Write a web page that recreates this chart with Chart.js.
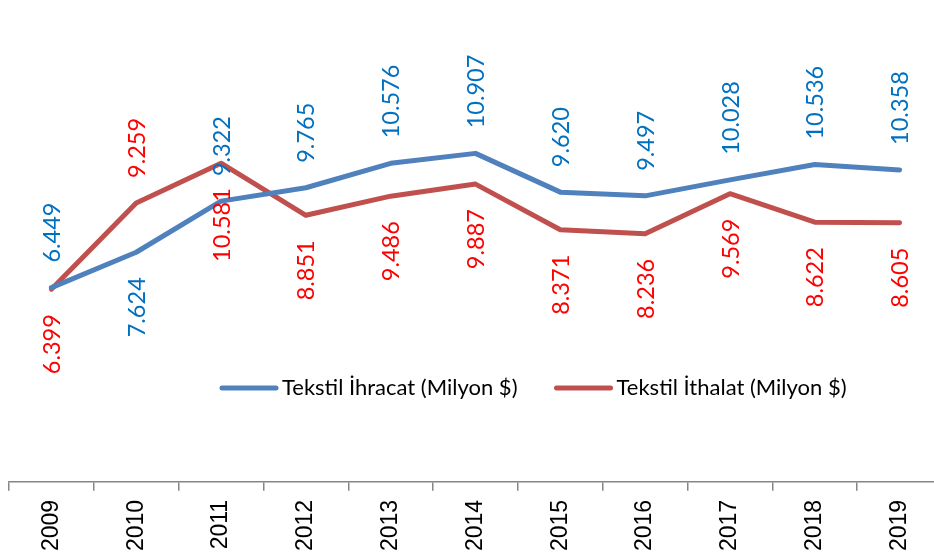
<!DOCTYPE html>
<html>
<head>
<meta charset="utf-8">
<script src="https://cdn.jsdelivr.net/npm/chart.js@4/dist/chart.umd.min.js"></script>
<style>
  html, body { margin: 0; padding: 0; background: #fff; overflow: hidden; }
  #wrap { width: 934px; height: 558px; overflow: hidden; }
</style>
</head>
<body>
<div id="wrap"><canvas id="chart" width="950" height="560"></canvas></div>
<script>
// data
const years = ['2009', '2010', '2011', '2012', '2013', '2014', '2015', '2016', '2017', '2018', '2019'];
const ihracat = [6.449, 7.624, 9.322, 9.765, 10.576, 10.907, 9.620, 9.497, 10.028, 10.536, 10.358];
const ithalat = [6.399, 9.259, 10.581, 8.851, 9.486, 9.887, 8.371, 8.236, 9.569, 8.622, 8.605];

// label sides (1 = above the point, -1 = below)
const ihracatSide = [1, -1, 1, 1, 1, 1, 1, 1, 1, 1, 1];
const ithalatSide = [-1, 1, -1, -1, -1, -1, -1, -1, -1, -1, -1];

const fmt = v => v.toFixed(3);

const pointLabels = {
    id: 'pointLabels',
    afterDatasetsDraw(chart) {
        const ctx = chart.ctx;
        chart.data.datasets.forEach((ds, di) => {
            const meta = chart.getDatasetMeta(di);
            meta.data.forEach((pt, i) => {
                const side = ds.labelSide[i];
                ctx.save();
                ctx.font = '23.5px Lato';
                ctx.fillStyle = ds.labelColor;
                ctx.textBaseline = 'middle';
                ctx.translate(pt.x + 1, pt.y - side * 25);
                ctx.rotate(-Math.PI / 2);
                ctx.textAlign = side > 0 ? 'left' : 'right';
                ctx.fillText(fmt(ds.data[i]), 0, 0);
                ctx.restore();
            });
        });
    }
};

const midLegend = {
    id: 'midLegend',
    afterDraw(chart) {
        const ctx = chart.ctx;
        const y = 388;
        let x = 222;
        ctx.save();
        ctx.font = '22px Lato';
        ctx.textBaseline = 'middle';
        ctx.textAlign = 'left';
        chart.data.datasets.forEach(ds => {
            ctx.strokeStyle = ds.borderColor;
            ctx.lineWidth = 5;
            ctx.lineCap = 'round';
            ctx.beginPath();
            ctx.moveTo(x, y);
            ctx.lineTo(x + 54, y);
            ctx.stroke();
            x += 60;
            ctx.fillStyle = '#000';
            ctx.fillText(ds.label, x, y);
            x += ctx.measureText(ds.label).width + 39;
        });
        ctx.restore();
    }
};

new Chart(document.getElementById('chart'), {
    type: 'line',
    data: {
        labels: years,
        datasets: [
            {
                label: 'Tekstil İhracat (Milyon $)',
                data: ihracat,
                borderColor: '#4F81BD',
                labelColor: '#0070C0',
                labelSide: ihracatSide,
                borderWidth: 5,
                pointRadius: 0,
                tension: 0,
                borderCapStyle: 'round',
                borderJoinStyle: 'round'
            },
            {
                label: 'Tekstil İthalat (Milyon $)',
                data: ithalat,
                borderColor: '#C0504D',
                labelColor: '#FF0000',
                labelSide: ithalatSide,
                borderWidth: 5,
                pointRadius: 0,
                tension: 0,
                borderCapStyle: 'round',
                borderJoinStyle: 'round'
            }
        ]
    },
    options: {
        responsive: false,
        animation: false,
        devicePixelRatio: 1,
        layout: { padding: { left: 9, right: 8, top: 0, bottom: 0 } },
        plugins: {
            legend: { display: false },
            tooltip: { enabled: false }
        },
        scales: {
            x: {
                offset: true,
                grid: {
                    offset: true,
                    drawOnChartArea: false,
                    drawTicks: true,
                    tickLength: 9,
                    color: '#868686',
                    lineWidth: 1.5
                },
                border: { display: true, color: '#868686', width: 1.5 },
                ticks: {
                    minRotation: 90,
                    maxRotation: 90,
                    padding: 9,
                    color: '#000',
                    font: { family: 'Liberation Sans', size: 23 }
                }
            },
            y: {
                display: false,
                min: 0,
                max: 16
            }
        }
    },
    plugins: [pointLabels, midLegend]
});
</script>
</body>
</html>
